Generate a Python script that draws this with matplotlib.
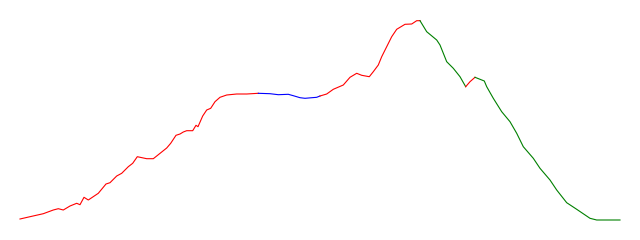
import matplotlib
matplotlib.use("Agg")
import matplotlib.pyplot as plt

# =========================
# DATA
# =========================
rise_x = [20, 30, 43.3, 53.3, 58.3, 63.3, 70, 76.7, 80, 84, 88.3, 98.3, 106, 110,
          116.7, 121.7, 128.3, 132.7, 137.3, 146.7, 153.3, 156.7, 161.7, 166.7,
          170.7, 176, 180, 183.3, 186.7, 192.7, 196, 198, 202.7, 206.7, 210.7,
          215, 220, 226.7, 236.7, 246.7, 258.3]
rise_y = [21, 23.3, 26.3, 30, 31.3, 30, 34, 36.7, 35.3, 42.7, 40, 46.7, 56, 57.3,
          64, 66.7, 73.3, 76.7, 83.3, 81.3, 81.3, 84, 88, 92, 96.7, 104.7, 106,
          108, 109.3, 109.3, 114.7, 113.3, 124, 130, 131.7, 138.3, 142.7, 145,
          146, 146, 146.7]

flat_x = [258.3, 270, 278.3, 288.3, 293.3, 300, 305, 316.7, 320]
flat_y = [146.7, 146.3, 145.3, 145.7, 144.3, 142.3, 141.7, 142.7, 144]

climb_x = [320, 326.7, 333.3, 343.3, 350, 356.7, 361.7, 369.3, 373.3, 378.3,
           381.7, 386.7, 391.7, 396.7, 405, 411.7, 416.7, 420]
climb_y = [144, 146, 150.7, 155, 162.7, 166.7, 164.7, 163.3, 168.3, 175, 183.3,
           193.3, 203.3, 210.7, 215.7, 216, 219.3, 219.3]

fall1_x = [420, 426.7, 436.7, 440, 446.7, 453.3, 460, 465.7]
fall1_y = [219.3, 208.3, 200, 195, 178.3, 171.7, 163.3, 153.3]

bump_x = [465.7, 470, 475]
bump_y = [153.3, 158.3, 162.7]

fall2_x = [475, 484.3, 486.7, 493.3, 501.7, 510, 516.7, 523.3, 533.3, 540, 550,
           556.7, 566.7, 576.7, 590, 596.7, 620]
fall2_y = [162.7, 159, 153.3, 141.7, 128.3, 118.3, 106.7, 93.3, 81.7, 71.7, 60,
           50, 37.3, 30.7, 21.7, 20, 20]

# =========================
# PLOT
# =========================
fig = plt.figure(figsize=(6.4, 2.4), dpi=100)
ax = fig.add_axes([0, 0, 1, 1])

ax.plot(rise_x, rise_y, color="red", lw=0.8)
ax.plot(flat_x, flat_y, color="blue", lw=0.8)
ax.plot(climb_x, climb_y, color="red", lw=0.8)
ax.plot(fall1_x, fall1_y, color="green", lw=0.8)
ax.plot(bump_x, bump_y, color="red", lw=0.8)
ax.plot(fall2_x, fall2_y, color="green", lw=0.8)

ax.set_xlim(0, 640)
ax.set_ylim(0, 240)
ax.axis("off")

fig.savefig("out.png", dpi=100)
